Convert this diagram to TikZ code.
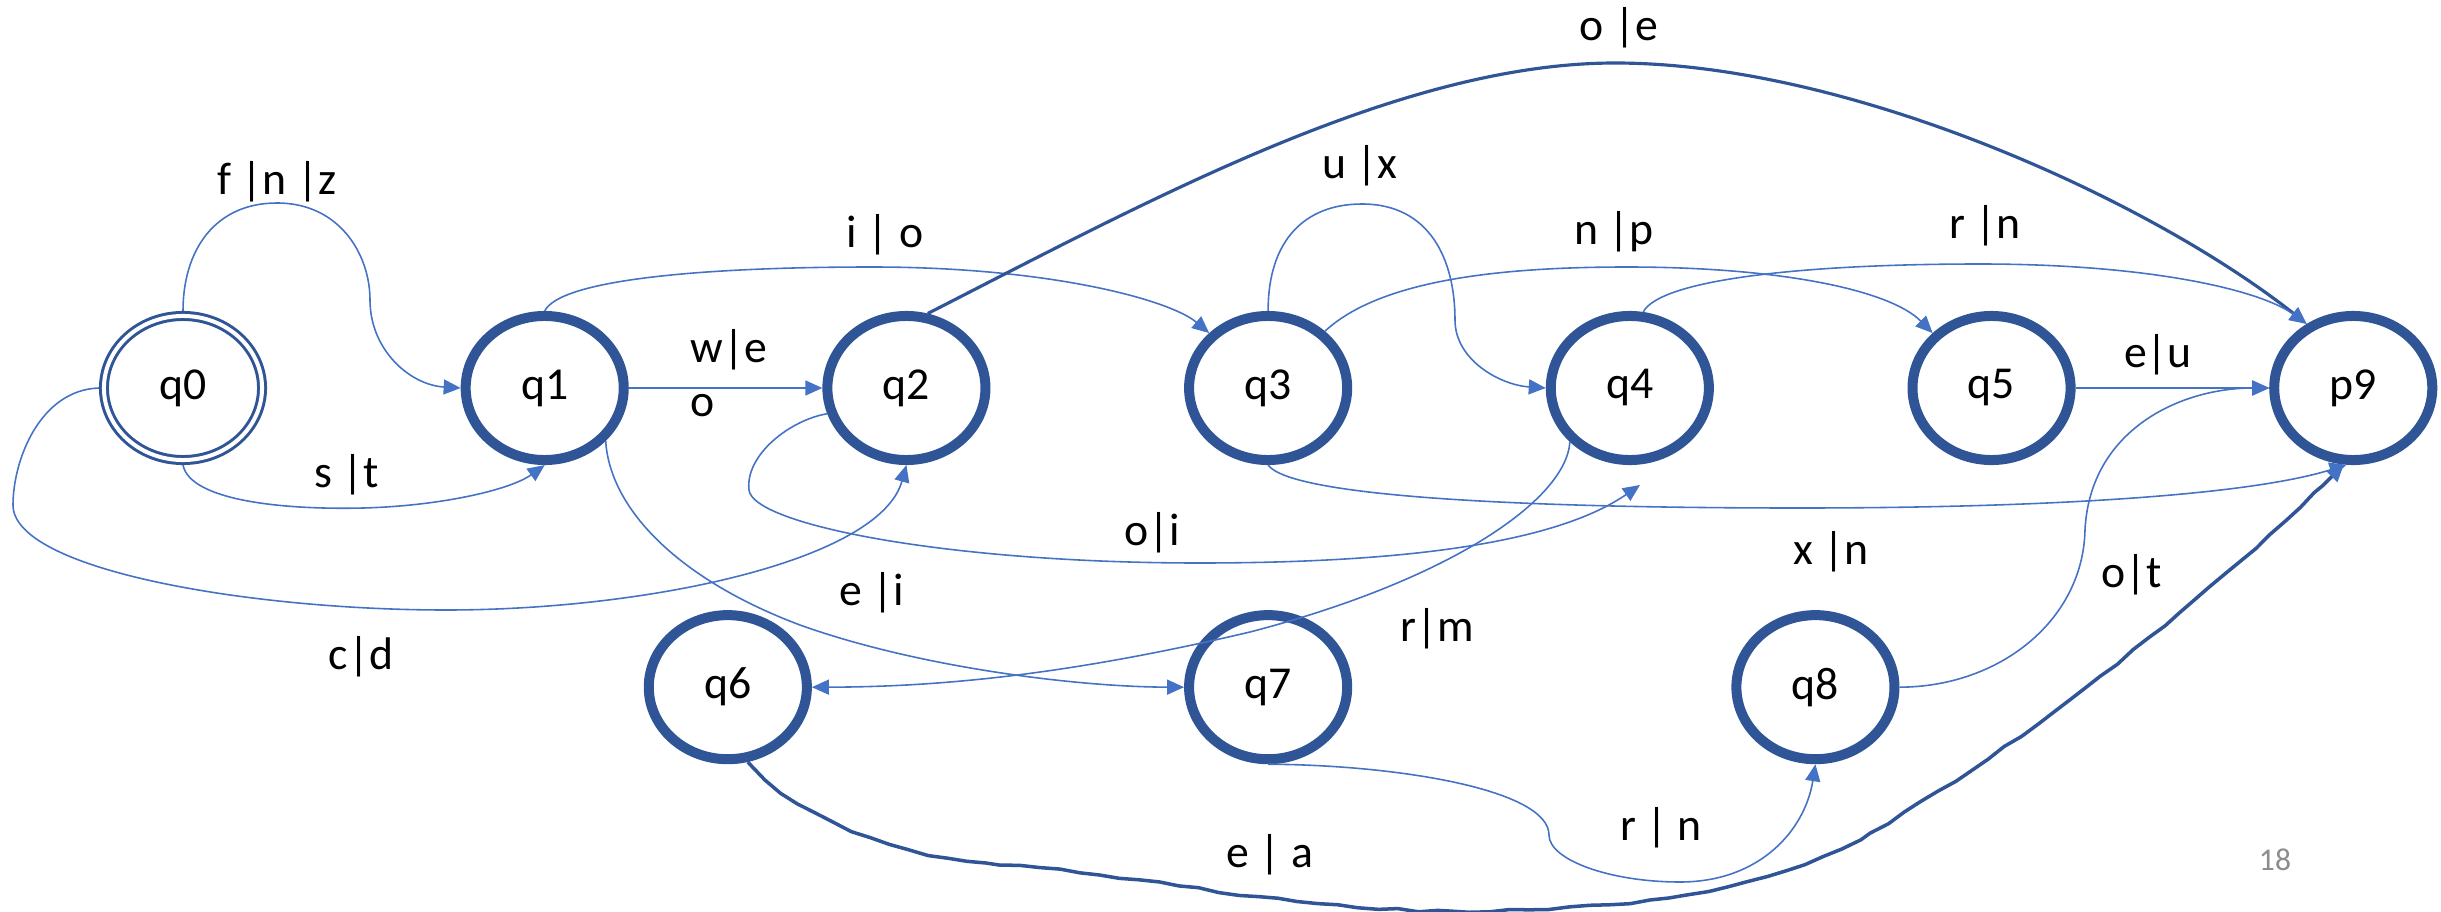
\documentclass[tikz,border=0pt]{standalone}
\usepackage{fontspec}
\setmainfont{Carlito}
\usepackage{tikz}
\usetikzlibrary{shapes.geometric, arrows.meta, positioning, decorations.pathmorphing}
\usepackage{xcolor}
\definecolor{statecol}{HTML}{2F5597}
\definecolor{edgecol}{HTML}{4472C4}
\definecolor{pagecol}{HTML}{8C8C8C}

\begin{document}
\begin{tikzpicture}[
    x=0.01cm, y=-0.01cm,
    node distance=1.935cm,
    >={Triangle[length=0.17cm,width=0.15cm,color=edgecol]},
    every node/.style={font=\fontsize{13}{15.5}\selectfont}
]
    % Define styles
    \tikzstyle{state} = [ellipse, minimum width=1.58cm, minimum height=1.44cm, inner sep=0pt, text centered, draw=statecol, line width=0.1cm]
    \tikzstyle{accept} = [ellipse, minimum width=1.58cm, minimum height=1.44cm, inner sep=0pt, text centered, draw=statecol, line width=0.03cm, double=white, double distance=0.04cm, outer sep=0.05cm]
    \tikzstyle{trans} = [draw=edgecol, line width=0.45pt, ->]
    \tikzstyle{bold} = [draw=statecol, line width=0.9pt, ->]
    \tikzstyle{ink} = [draw=statecol, line width=1pt, ->, decorate, decoration={random steps, segment length=0.2cm, amplitude=0.012cm, pre length=0.05cm, post length=0.3cm}]
    \tikzstyle{lbl} = [inner sep=0pt, text height=9pt, text depth=3pt]

    \useasboundingbox (0,0) rectangle (2441,912);
    \pgfmathsetseed{7}

    % Top row of states
    \node [accept] (q0) at (183,388) {q0};
    \node [state, right=of q0] (q1) {q1};
    \node [state, right=of q1] (q2) {q2};
    \node [state, right=of q2] (q3) {q3};
    \node [state, right=of q3] (q4) {q4};
    \node [state, right=of q4] (q5) {q5};
    \node [state, right=of q5] (p9) {p9};

    % Bottom row of states
    \node [state, below=1.45cm of q3] (q7) {q7};
    \node [state, left=3.72cm of q7] (q6) {q6};
    \node [state, right=3.79cm of q7] (q8) {q8};

    % Free end of the o|i arrow
    \coordinate (q4gap) at (1640,485);

    % Transitions from q0
    \draw [trans] (q0.north) .. controls (183,250) and (215,203) .. (277,203)
        .. controls (340,203) and (370,255) .. (370,300)
        .. controls (370,350) and (410,385) .. (q1.west);
    \draw [trans] (q0.south) .. controls (190,500) and (280,510) .. (363,508)
        .. controls (440,506) and (510,490) .. (q1.south);
    \draw [trans] (q0.west) .. controls (40,390) and (13,460) .. (13,505)
        .. controls (13,570) and (250,610) .. (446,610)
        .. controls (650,610) and (880,560) .. (q2.south);

    % Transitions from q1
    \draw [trans] (q1.east) -- (q2.west);
    \draw [trans] (q1.north) .. controls (560,280) and (700,267) .. (872,267)
        .. controls (1050,267) and (1170,300) .. (q3.137);
    \draw [trans] (q1.-41) .. controls (610,510) and (680,580) .. (800,625)
        .. controls (920,668) and (1080,687) .. (q7.west);

    % Transitions from q2
    \draw [trans] (q2.198) .. controls (790,420) and (745,455) .. (749,490)
        .. controls (753,525) and (950,563) .. (1199,563)
        .. controls (1420,563) and (1560,540) .. (q4gap);
    \draw [bold] (q2.74) .. controls (1150,200) and (1400,63) .. (1615,63)
        .. controls (1850,63) and (2150,200) .. (p9.126);

    % Transitions from q3
    \draw [trans] (q3.north) .. controls (1268,240) and (1305,204) .. (1362,204)
        .. controls (1430,204) and (1455,260) .. (1455,320)
        .. controls (1455,360) and (1500,385) .. (q4.west);
    \draw [trans] (q3.45) .. controls (1380,280) and (1500,267) .. (1627,267)
        .. controls (1780,267) and (1890,290) .. (q5.137);
    \draw [trans] (q3.south) .. controls (1290,495) and (1500,508) .. (1800,508)
        .. controls (2050,508) and (2250,495) .. (p9.-95);

    % Transitions from q4 and q5
    \draw [trans] (q4.80) .. controls (1660,280) and (1800,264) .. (1980,264)
        .. controls (2150,264) and (2260,290) .. (p9.126);
    \draw [trans] (q4.-138) .. controls (1566,500) and (1450,580) .. (1250,632)
        .. controls (1080,672) and (950,687) .. (q6.east);
    \draw [trans] (q5.east) -- (p9.west);

    % Transitions from the bottom row
    \draw [trans] (q7.south) .. controls (1400,765) and (1549,790) .. (1549,835)
        .. controls (1549,860) and (1610,882) .. (1680,882)
        .. controls (1760,882) and (1805,830) .. (q8.south);
    \draw [trans] (q8.east) .. controls (2000,687) and (2083,620) .. (2085,530)
        .. controls (2090,430) and (2180,388) .. (p9.west);
    \draw [ink] (q6.-75) .. controls (790,810) and (880,855) .. (1000,865)
        .. controls (1150,875) and (1280,910) .. (1450,911)
        .. controls (1650,912) and (1780,885) .. (1870,833)
        .. controls (2050,730) and (2250,560) .. (p9.-97);

    % Transition labels
    \node [lbl] (fnz) at (277,184) {f |n |z};
    \node [lbl] (st) at (347,477) {s |t};
    \node [lbl] (cd) at (361,659) {c|d};
    \node [anchor=west, align=left, inner sep=0pt] (weo) at (690,373) {w|e\\o};
    \node [lbl] (io) at (885,237) {i | o};
    \node [lbl] (oi) at (1152,535) {o|i};
    \node [lbl] (ei) at (872,595) {e |i};
    \node [lbl] (ux) at (1360,168) {u |x};
    \node [lbl] (np) at (1614,234) {n |p};
    \node [lbl] (rn) at (1985,228) {r |n};
    \node [lbl] (oe) at (1619,30) {o |e};
    \node [lbl] (eu) at (2158,357) {e|u};
    \node [lbl] (xn) at (1831,554) {x |n};
    \node [lbl] (ot) at (2132,577) {o|t};
    \node [lbl] (rm) at (1437,631) {r|m};
    \node [lbl] (rsn) at (1661,830) {r | n};
    \node [lbl] (ea) at (1270,857) {e | a};

    % Page number
    \node [text=pagecol, font=\fontsize{9}{11}\selectfont] (page) at (2275,860) {18};

\end{tikzpicture}
\end{document}
